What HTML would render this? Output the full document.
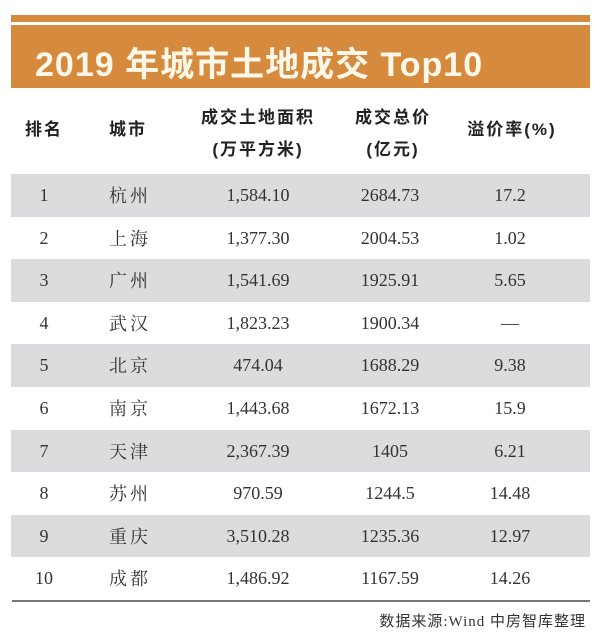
<!DOCTYPE html>
<html><head><meta charset="utf-8"><style>
body{margin:0;width:600px;height:642px;background:#fff;position:relative;overflow:hidden;font-family:"Liberation Serif","Noto Serif CJK SC",serif;}
.b1{position:absolute;left:11px;top:15px;width:579px;height:7px;background:#d68a3e}
.b2{position:absolute;left:11px;top:25px;width:579px;height:63px;background:#d68a3e}
.title{position:absolute;left:35px;top:37px;font:bold 34px "Liberation Sans","Noto Sans CJK SC",sans-serif;color:#fff8e8;letter-spacing:1px;white-space:nowrap}
.h{position:absolute;font:bold 17px "Liberation Sans","Noto Sans CJK SC",sans-serif;color:#222;text-align:center;letter-spacing:2px;line-height:32px;white-space:nowrap}
.row{position:absolute;left:11px;width:579px;height:42.6px;font-size:18px;color:#333}
.g{background:#dcdcde}
.row span{position:absolute;top:0;line-height:43px;text-align:center;transform:translateX(-50%);white-space:nowrap}
.cn{font-family:"Noto Serif CJK SC","Noto Sans CJK SC",serif;font-size:18px;letter-spacing:3px}
.line{position:absolute;left:12px;top:600px;width:578px;height:2px;background:#777}
.src{position:absolute;right:14px;top:610px;font-size:15px;color:#333;font-family:"Liberation Serif","Noto Sans CJK SC",serif;letter-spacing:1px}
</style></head><body>
<div class="b1"></div><div class="b2"></div>
<div class="title">2019 年城市土地成交 Top10</div>
<div class="h" style="left:22px;top:114px;width:44px">排名</div>
<div class="h" style="left:106px;top:114px;width:44px">城市</div>
<div class="h" style="left:194px;top:102px;width:128px">成交土地面积<br>(万平方米)</div>
<div class="h" style="left:346px;top:102px;width:94px">成交总价<br>(亿元)</div>
<div class="h" style="left:460px;top:114px;width:104px">溢价率(%)</div>

<div class="row g" style="top:174px"><span style="left:33px">1</span><span class="cn" style="left:119px">杭州</span><span style="left:247px">1,584.10</span><span style="left:379px">2684.73</span><span style="left:499px">17.2</span></div>
<div class="row" style="top:216.6px"><span style="left:33px">2</span><span class="cn" style="left:119px">上海</span><span style="left:247px">1,377.30</span><span style="left:379px">2004.53</span><span style="left:499px">1.02</span></div>
<div class="row g" style="top:259.2px"><span style="left:33px">3</span><span class="cn" style="left:119px">广州</span><span style="left:247px">1,541.69</span><span style="left:379px">1925.91</span><span style="left:499px">5.65</span></div>
<div class="row" style="top:301.8px"><span style="left:33px">4</span><span class="cn" style="left:119px">武汉</span><span style="left:247px">1,823.23</span><span style="left:379px">1900.34</span><span style="left:499px">—</span></div>
<div class="row g" style="top:344.4px"><span style="left:33px">5</span><span class="cn" style="left:119px">北京</span><span style="left:247px">474.04</span><span style="left:379px">1688.29</span><span style="left:499px">9.38</span></div>
<div class="row" style="top:387px"><span style="left:33px">6</span><span class="cn" style="left:119px">南京</span><span style="left:247px">1,443.68</span><span style="left:379px">1672.13</span><span style="left:499px">15.9</span></div>
<div class="row g" style="top:429.6px"><span style="left:33px">7</span><span class="cn" style="left:119px">天津</span><span style="left:247px">2,367.39</span><span style="left:379px">1405</span><span style="left:499px">6.21</span></div>
<div class="row" style="top:472.2px"><span style="left:33px">8</span><span class="cn" style="left:119px">苏州</span><span style="left:247px">970.59</span><span style="left:379px">1244.5</span><span style="left:499px">14.48</span></div>
<div class="row g" style="top:514.8px"><span style="left:33px">9</span><span class="cn" style="left:119px">重庆</span><span style="left:247px">3,510.28</span><span style="left:379px">1235.36</span><span style="left:499px">12.97</span></div>
<div class="row" style="top:557.4px"><span style="left:33px">10</span><span class="cn" style="left:119px">成都</span><span style="left:247px">1,486.92</span><span style="left:379px">1167.59</span><span style="left:499px">14.26</span></div>
<div class="line"></div>
<div class="src">数据来源:Wind 中房智库整理</div>
</body></html>
